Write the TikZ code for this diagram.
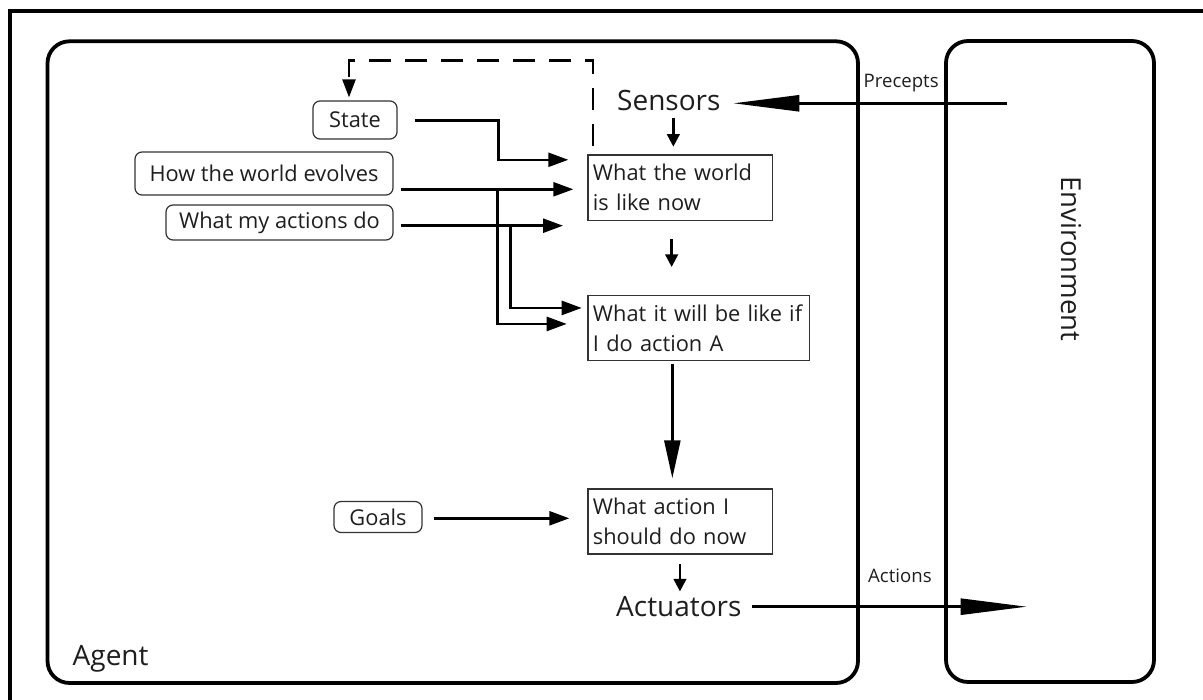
\documentclass[tikz,border=0pt]{standalone}
\usepackage{fontspec}
\setmainfont{Open Sans}
\usetikzlibrary{arrows.meta,calc}
\definecolor{ink}{HTML}{1e1e1e}
\definecolor{edge}{HTML}{333333}

\begin{document}
\begin{tikzpicture}[x=1pt,y=-1pt,
  frame/.style={line width=3.3pt, draw=black},
  container/.style={line width=3.8pt, draw=black, rounded corners=22pt},
  tag/.style={draw=edge, line width=1.2pt, rounded corners=7pt, inner sep=0pt,
    font=\fontsize{21.8}{25}\selectfont, text=ink},
  stage/.style={draw=edge, line width=1.3pt, inner xsep=5pt, inner ysep=2pt,
    align=left, anchor=north west, font=\fontsize{21.8}{30}\selectfont, text=ink},
  title/.style={inner sep=0pt, anchor=base west, text=ink, font=\fontsize{28}{32}\selectfont},
  small/.style={inner sep=0pt, anchor=base west, text=ink, font=\fontsize{18.6}{21}\selectfont},
  link/.style={line width=2.5pt, draw=black},
  tipS/.style={-{Triangle[length=12.5pt,width=12.5pt]}},
  tipM/.style={-{Triangle[length=20pt,width=14pt]}},
  tipL/.style={-{Triangle[length=38pt,width=16pt]}},
  tipXL/.style={-{Triangle[length=66pt,width=16pt]}}
]
\useasboundingbox (0,0) rectangle (1203,700);
\clip (0,0) rectangle (1203,700);

% outer frame and the two containers
\draw[frame] (10,11) rectangle (1225,725);
\draw[container] (47.5,41.3) rectangle (858,683);
\draw[container] (946,41) rectangle (1154,682);

% labels
\node[title] (sensors) at (617,111) {Sensors};
\node[title] (actuators) at (616,616.7) {Actuators};
\node[inner sep=0pt, anchor=base west, text=ink, font=\fontsize{28}{32}\selectfont] (agentlbl) at (72.5,665) {Agent};
\node[inner sep=0pt, rotate=-90, text=ink, font=\fontsize{27.5}{32}\selectfont] (envlbl) at (1071,259) {Environment};
\node[small] (precepts) at (863.5,87.3) {Precepts};
\node[small] (actions) at (868,582.7) {Actions};

% knowledge tags
\node[tag, minimum width=84pt, minimum height=38pt] (state) at (355,120) {State};
\node[tag, minimum width=258pt, minimum height=43pt] (how) at (264,173.5) {How the world evolves};
\node[tag, minimum width=227pt, minimum height=35pt] (what) at (279.5,222.5) {What my actions do};
\node[tag, minimum width=88pt, minimum height=31pt] (goals) at (378,517) {Goals};

% reasoning stages
\node[stage, text width=174.4pt, minimum height=65.7pt] (world) at (587.3,154.3) {What the world\\is like now};
\node[stage, text width=211.7pt, minimum height=65pt] (will) at (587.3,295) {What it will be like if\\I do action A};
\node[stage, text width=174.4pt, minimum height=65pt] (action) at (587.3,488.3) {What action I\\should do now};

% environment interface
\coordinate (penv) at (1007,103.3);
\coordinate (aenv) at (1026.7,606.7);
\draw[link, tipXL] (penv) -- ($(sensors.east |- penv)+(12.7,0)$);
\draw[link, tipXL, shorten <=10.7pt] (actuators.east |- aenv) -- (aenv);

% internal flow
\draw[link, tipS] ($(world.north |- sensors.south)+(-6.8,7)$) -- ($(world.north)+(-6.8,-7.6)$);
\draw[link, tipS] ($(world.south)+(-8.5,18)$) -- ($(world.south |- will.north)+(-8.5,-28)$);
\draw[link, tipL] ($(action.north |- will.south)+(-7.8,3)$) -- ($(action.north)+(-7.8,-10)$);
\draw[link, tipS] ($(action.south)+(-0.2,9.4)$) -- ($(action.south |- actuators.north)+(-0.2,-5)$);

% state feedback
\draw[link, dash pattern=on 22pt off 14pt, -{Triangle[length=18pt,width=13pt]}, shorten >=3pt]
  ($(world.north west)+(5.7,-8.3)$) |- ($(state.north)+(-6,-40)$) -- ($(state.north)+(-6,0)$);

% tag inputs
\coordinate (hs) at ($(how.east)+(7,15.8)$);
\coordinate (ws) at ($(what.east)+(7,3.2)$);
\coordinate (gs) at ($(goals.east)+(11.3,1.3)$);
\draw[link, tipM] ($(state.east)+(17,0.7)$) -- ++(83.7,0) |- ($(world.west)+(-19,-28)$);
\draw[link, tipM] (hs) -- ($(hs -| world.west)+(-14,0)$);
\draw[link, tipM] ($(hs)+(96.7,0)$) |- ($(will.west)+(-20.6,-4.2)$);
\draw[link, tipM] (ws) -- ($(ws -| world.west)+(-24.3,0)$);
\draw[link, tipM] ($(ws)+(110,0)$) |- ($(will.west)+(-5.6,-20.2)$);
\draw[link, tipM] (gs) -- ($(gs -| action.west)+(-18,0)$);
\end{tikzpicture}
\end{document}
